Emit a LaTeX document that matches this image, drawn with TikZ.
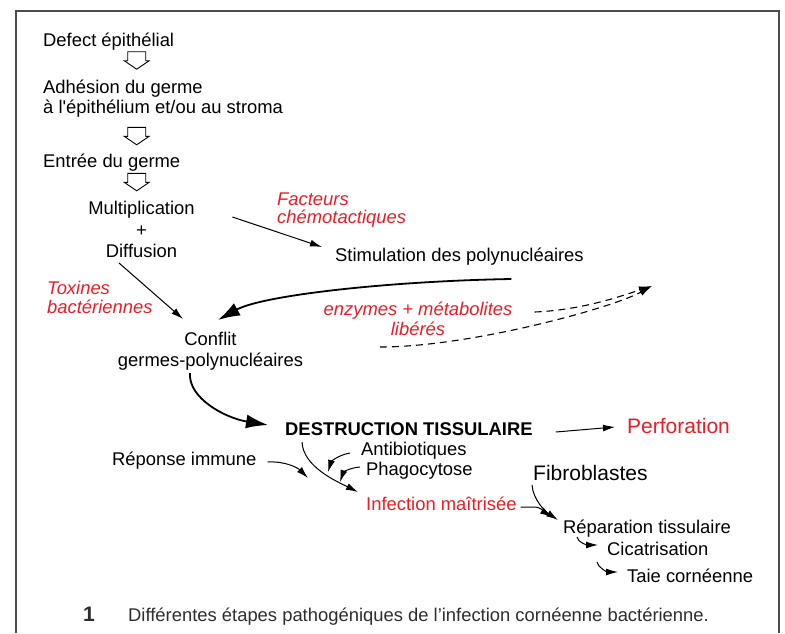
\documentclass[tikz,border=0pt]{standalone}
\usepackage{fontspec}
\setmainfont{Liberation Sans}
\usepackage{tikz}
\usetikzlibrary{arrows.meta}

\definecolor{redlab}{RGB}{237,28,36}
\definecolor{capgrey}{RGB}{45,45,45}
\newcommand{\txtsize}{\fontsize{18.4}{21}\selectfont}
\newcommand{\bigsize}{\fontsize{21}{24}\selectfont}

\tikzset{
	txt/.style={inner sep=0pt, anchor=base west, font=\txtsize},
	ctxt/.style={inner sep=0pt, anchor=base, font=\txtsize},
	redit/.style={txt, text=redlab, font=\txtsize\itshape},
	credit/.style={ctxt, text=redlab, font=\txtsize\itshape},
	conn/.style={line width=1pt, -{Latex[length=12pt,width=7pt]}},
	bigconn/.style={line width=1.8pt, -{Latex[length=22pt,width=14pt]}},
	dashconn/.style={line width=1.1pt, dash pattern=on 7pt off 5pt, -{Latex[length=13pt,width=7.5pt]}},
	frame/.style={line width=1.6pt, black!70},
	hollow/.pic={
		\draw[line width=0.9pt] (-9,0) -- (9,0) -- (9,9) -- (12.5,9) -- (0,17.5) -- (-12.5,9) -- (-9,9) -- cycle;
	}
}

\begin{document}
\begin{tikzpicture}[x=1pt,y=-1pt]
		\useasboundingbox (0,0) rectangle (785,633);
		
		% Frame
		\draw[frame] (16,633) -- (16,11) -- (779,11) -- (779,633);
		
		% Left column
		\node[txt] (defect) at (43,46) {Defect épithélial};
		\pic at (136.7,51.7) {hollow};
		\node[txt] (adh1) at (43,93) {Adhésion du germe};
		\node[txt] (adh2) at (43,113) {à l\textquotesingle épithélium et/ou au stroma};
		\pic at (136.7,127.3) {hollow};
		\node[txt] (entree) at (43,167) {Entrée du germe};
		\pic at (136.7,173.3) {hollow};
		\node[ctxt] (mult) at (141.5,214) {Multiplication};
		\node[ctxt] (plus) at (141.5,236.5) {+};
		\node[ctxt] (diff) at (141.5,257) {Diffusion};
		
		% Polynucleaires
		\node[redit] (fact1) at (277,205) {Facteurs};
		\node[redit] (fact2) at (277,223) {chémotactiques};
		\node[txt] (stim) at (335,261) {Stimulation des polynucléaires};
		\node[redit] (tox1) at (47,294) {Toxines};
		\node[redit] (tox2) at (47,313) {bactériennes};
		\node[credit] (enz1) at (418,315) {enzymes + métabolites};
		\node[credit] (enz2) at (418,335) {libérés};
		\node[ctxt] (conf1) at (210.5,345) {Conflit};
		\node[ctxt] (conf2) at (210.5,366) {germes-polynucléaires};
		\coordinate (extout) at (652,286);
		
		\draw[conn] ([shift={(37.5,3)}]mult.base east) -- ([shift={(-13,-14)}]stim.base west);
		\draw[conn] ([shift={(-22.5,6)}]diff.base) -- ([shift={(-27.5,-26)}]conf1.base);
		\draw[bigconn] ([shift={(52,18)}]stim.base) .. controls +(-120,2) and +(45,-25) .. ([shift={(7.5,-25)}]conf1.base);
		\draw[dashconn] ([shift={(22,-3)}]enz1.base east) .. controls +(50,-2) and +(-25,8) .. (extout);
		\draw[dashconn] ([shift={(-38,12)}]enz2.base) .. controls +(90,0) and +(-40,22) .. (extout);
		
		% Destruction
		\node[txt, font=\txtsize\bfseries] (destr) at (285,435) {DESTRUCTION TISSULAIRE};
		\node[txt, text=redlab, font=\bigsize] (perf) at (627,433) {Perforation};
		\node[txt] (rep) at (112,465) {Réponse immune};
		\node[txt] (anti) at (361,455) {Antibiotiques};
		\node[txt] (phag) at (366,475) {Phagocytose};
		\node[txt, text=redlab] (inf) at (366,510) {Infection maîtrisée};
		
		\draw[bigconn] ([shift={(-20.5,7)}]conf2.base) .. controls +(-2,25) and +(-43,-7) .. ([shift={(-17,-10)}]destr.base west);
		\draw[conn] ([shift={(23,-3)}]destr.base east) -- ([shift={(-12,-6)}]perf.base west);
		\draw[conn] ([shift={(11,-3)}]rep.base east) .. controls +(18,-1) and +(-10,-10) .. ([shift={(-58,-32)}]inf.base west);
		\draw[conn] ([shift={(17,7)}]destr.base west) .. controls +(1,25) and +(-20,-10) .. ([shift={(-8,-18)}]inf.base west);
		\draw[conn] ([shift={(-11,-2)}]anti.base west) .. controls +(-12,2) and +(3,-10) .. ([shift={(-33,17)}]anti.base west);
		\draw[conn] ([shift={(-6,-8)}]phag.base west) .. controls +(-12,1) and +(3,-9) .. ([shift={(-26,7)}]phag.base west);
		
		% Cicatrisation
		\node[txt, font=\bigsize] (fib) at (533,480) {Fibroblastes};
		\node[txt] (repar) at (563,533) {Réparation tissulaire};
		\node[txt] (cic) at (607,555) {Cicatrisation};
		\node[txt] (taie) at (627,582) {Taie cornéenne};
		
		\draw[conn] ([shift={(-1,5)}]fib.base west) .. controls +(1,15) and +(-12,-8) .. ([shift={(-5,-13)}]repar.base west);
		\draw[conn] ([shift={(4,-3)}]inf.base east) -- ++(13,0) .. controls +(8,0) and +(-8,-5) .. ([shift={(-11,-16)}]repar.base west);
		\draw[conn] ([shift={(14,4)}]repar.base west) .. controls +(1,6) and +(-10,0) .. ([shift={(-9,-10)}]cic.base west);
		\draw[conn] ([shift={(-10,7)}]cic.base west) .. controls +(1,6) and +(-10,0) .. ([shift={(-9,-10)}]taie.base west);
		
		% Caption
		\node[txt, font=\bigsize\bfseries, text=capgrey] (fignum) at (83,621) {1};
		\node[txt, text=capgrey] (caption) at (128,621) {Différentes étapes pathogéniques de l’infection cornéenne bactérienne.};
		
	\end{tikzpicture}
\end{document}
